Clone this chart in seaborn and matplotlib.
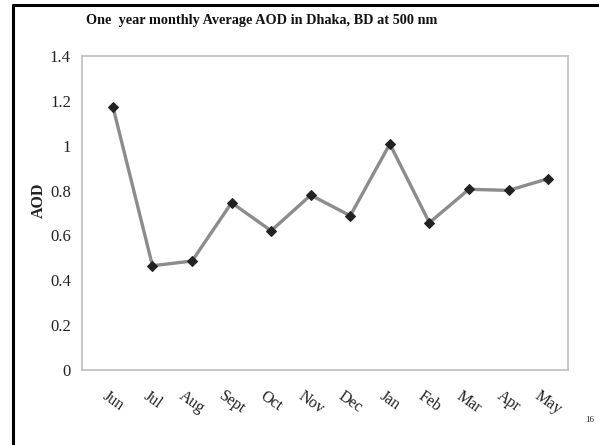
import matplotlib
matplotlib.use("Agg")
import matplotlib.pyplot as plt
from matplotlib.lines import Line2D
import matplotlib.transforms as mtransforms
import seaborn as sns
import pandas as pd

months = ["Jun", "Jul", "Aug", "Sept", "Oct", "Nov", "Dec", "Jan", "Feb", "Mar", "Apr", "May"]
aod = [1.174, 0.465, 0.486, 0.746, 0.621, 0.780, 0.688, 1.008, 0.657, 0.806, 0.801, 0.853]
y_ticks = [0, 0.2, 0.4, 0.6, 0.8, 1.0, 1.2, 1.4]
y_tick_labels = ["0", "0.2", "0.4", "0.6", "0.8", "1", "1.2", "1.4"]

sns.set_theme(style="white")
plt.rcParams["font.family"] = ["Liberation Serif", "DejaVu Serif"]

df = pd.DataFrame({"month": months, "aod": aod})

fig = plt.figure(figsize=(5.99, 4.45), dpi=100)
ax = fig.add_axes([0.137, 0.1685, 0.811, 0.7055])

sns.lineplot(data=df, x="month", y="aod", sort=False, ax=ax,
             color="#8c8c8c", linewidth=2.4,
             marker="D", markersize=5.5, markerfacecolor="#222222",
             markeredgecolor="#222222")

ax.set_xlim(-0.78, 11.5)
ax.set_ylim(0, 1.4)
ax.set_yticks(y_ticks)
ax.set_yticklabels(y_tick_labels, fontsize=12, color="#222222")
ax.set_xticks(range(len(months)))
ax.set_xticklabels(months, rotation=-35, ha="center", va="top",
                   fontsize=11.5, color="#222222")
offset = mtransforms.ScaledTranslation(-5 / 100, 0, fig.dpi_scale_trans)
for lbl in ax.get_xticklabels():
    lbl.set_transform(lbl.get_transform() + offset)
ax.tick_params(axis="x", length=0, pad=13)
ax.tick_params(axis="y", length=0, pad=8)
ax.set_xlabel("")
ax.set_ylabel("AOD", fontsize=11.5, fontweight="bold", color="#222222")
ax.yaxis.set_label_coords(-0.073, 0.54)

for side in ["left", "right", "top", "bottom"]:
    ax.spines[side].set_visible(True)
    ax.spines[side].set_color("#bfbfbf")
    ax.spines[side].set_linewidth(1.2)
ax.grid(False)

fig.text(0.437, 0.955, "One  year monthly Average AOD in Dhaka, BD at 500 nm",
         ha="center", va="center", fontsize=10.3, fontweight="bold", color="#111111")

fig.text(0.985, 0.056, "16", ha="center", va="center", fontsize=6.5, color="#222222")

# slide frame: left and top edges
fig.add_artist(Line2D([0.022, 0.022], [0.0, 0.988], transform=fig.transFigure,
                      color="black", linewidth=2.2))
fig.add_artist(Line2D([0.021, 1.0], [0.988, 0.988], transform=fig.transFigure,
                      color="black", linewidth=2.2))

fig.savefig("out.png", dpi=100, facecolor="white")
